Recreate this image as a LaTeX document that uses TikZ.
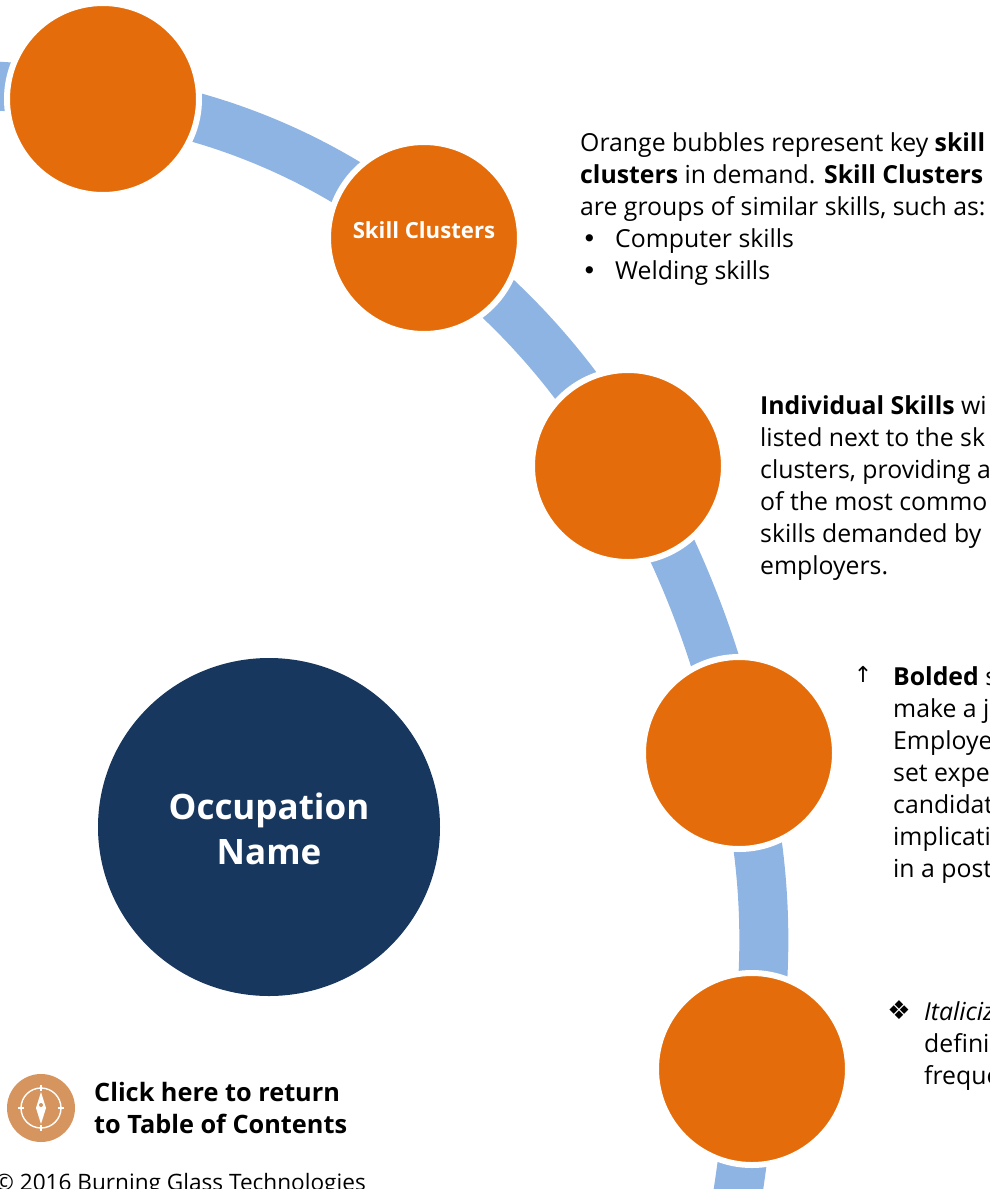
\documentclass[tikz,border=0pt]{standalone}
\usepackage{fontspec}
\setmainfont{Open Sans}
\newfontfamily\symfont{DejaVu Sans}
\usetikzlibrary{shapes.geometric,positioning,calc,backgrounds}
\definecolor{bubbleorange}{HTML}{E46C0A}
\definecolor{bandblue}{HTML}{8EB4E3}
\definecolor{occupnavy}{HTML}{17375E}
\definecolor{iconorange}{HTML}{D6955E}

\begin{document}
\begin{tikzpicture}[x=1pt,y=-1pt]
  % Define styles
  \tikzstyle{bubble} = [circle, fill=bubbleorange, draw=white, line width=6pt, minimum size=192pt, inner sep=0pt, text=white, font=\fontsize{22.2}{28}\selectfont\bfseries]
  \tikzstyle{band} = [draw=bandblue, line width=49pt, looseness=0.85]
  \tikzstyle{body} = [anchor=north west, inner sep=0pt, align=left, font=\fontsize{24.8}{32}\selectfont]
  \useasboundingbox (0,0) rectangle (990,1189);

  % Skill bubbles along the curve
  \node [bubble] (bubbleA) at (103,99) {};
  \node [bubble] (bubbleB) at (424,238) {\raisebox{15pt}{Skill Clusters}};
  \node [bubble] (bubbleC) at (628,466) {};
  \node [bubble] (bubbleD) at (739,753) {};
  \node [bubble] (bubbleE) at (752,1069) {};
  \coordinate (bandstart) at (-40,85);
  \coordinate (bandend) at (730,1240);

  % Band behind the bubbles
  \begin{pgfonlayer}{background}
    \draw [band] (bandstart) to[out=0,in=170] (bubbleA.center);
    \draw [band] (bubbleA.center) to[bend left=17] (bubbleB.center);
    \draw [band] (bubbleB.center) to[bend left=13] (bubbleC.center);
    \draw [band] (bubbleC.center) to[bend left=9.5] (bubbleD.center);
    \draw [band] (bubbleD.center) to[bend left=13] (bubbleE.center);
    \draw [band] (bubbleE.center) to[bend left=3] (bandend);
  \end{pgfonlayer}

  % Occupation circle
  \node [ellipse, fill=occupnavy, minimum width=342pt, minimum height=338pt, inner sep=0pt, text=white, align=center, font=\fontsize{35}{45}\selectfont\bfseries] (occupation) at (269,827) {\rule{0pt}{31pt}Occupation\\Name};

  % Text blocks
  \node [body] (clustertext) at (580,132) {Orange bubbles represent key \textbf{skill}\\
    \textbf{clusters} in demand. \textbf{Skill Clusters}\\
    are groups of similar skills, such as:\\
    \makebox[35pt][l]{\hspace*{2pt}\symfont\fontsize{24.8}{32}\selectfont•}Computer skills\\
    \makebox[35pt][l]{\hspace*{2pt}\symfont\fontsize{24.8}{32}\selectfont•}Welding skills};
  \node [body] (skillstext) at (760,395) {\textbf{Individual Skills} wi\\
    listed next to the sk\\
    clusters, providing a\\
    of the most commo\\
    skills demanded by\\
    employers.};
  \node [body] (boldtext) at (893,666) {\textbf{Bolded} s\\
    make a j\\
    Employe\\
    set expe\\
    candidat\\
    implicati\\
    in a post};
  \node [body, font=\fontsize{22}{32}\selectfont\symfont, anchor=north] (boldmark) at (863,666) {↑};
  \node [body] (italictext) at (924,1001) {\textit{Italiciz}\\
    defini\\
    freque};
  \node [body, font=\fontsize{26}{32}\selectfont\symfont, anchor=north] (italicmark) at (899,1000) {❖};

  % Return link
  \node [circle, fill=iconorange, minimum size=68pt, inner sep=0pt] (icon) at (41,1108) {};
  \draw [white, line width=1.4pt] (icon.center) circle (20pt);
  \foreach \ang in {0,90,180,270} {
    \draw [white, line width=1.4pt] (icon.center) ++(\ang:17) -- ++(\ang:6);
  }
  \fill [white] (icon.center) ++(0,-16) -- ++(5,16) -- ++(-5,16) -- ++(-5,-16) -- cycle;
  \fill [iconorange] (icon.center) ++(0,-3) circle (2pt);
  \node [body, font=\fontsize{25.3}{32}\selectfont\bfseries] (returnlink) at (94,1082) {Click here to return\\to Table of Contents};
  \node [body, font=\fontsize{22.6}{28}\selectfont] (footer) at (-5,1173) {© 2016 Burning Glass Technologies};
\end{tikzpicture}
\end{document}
